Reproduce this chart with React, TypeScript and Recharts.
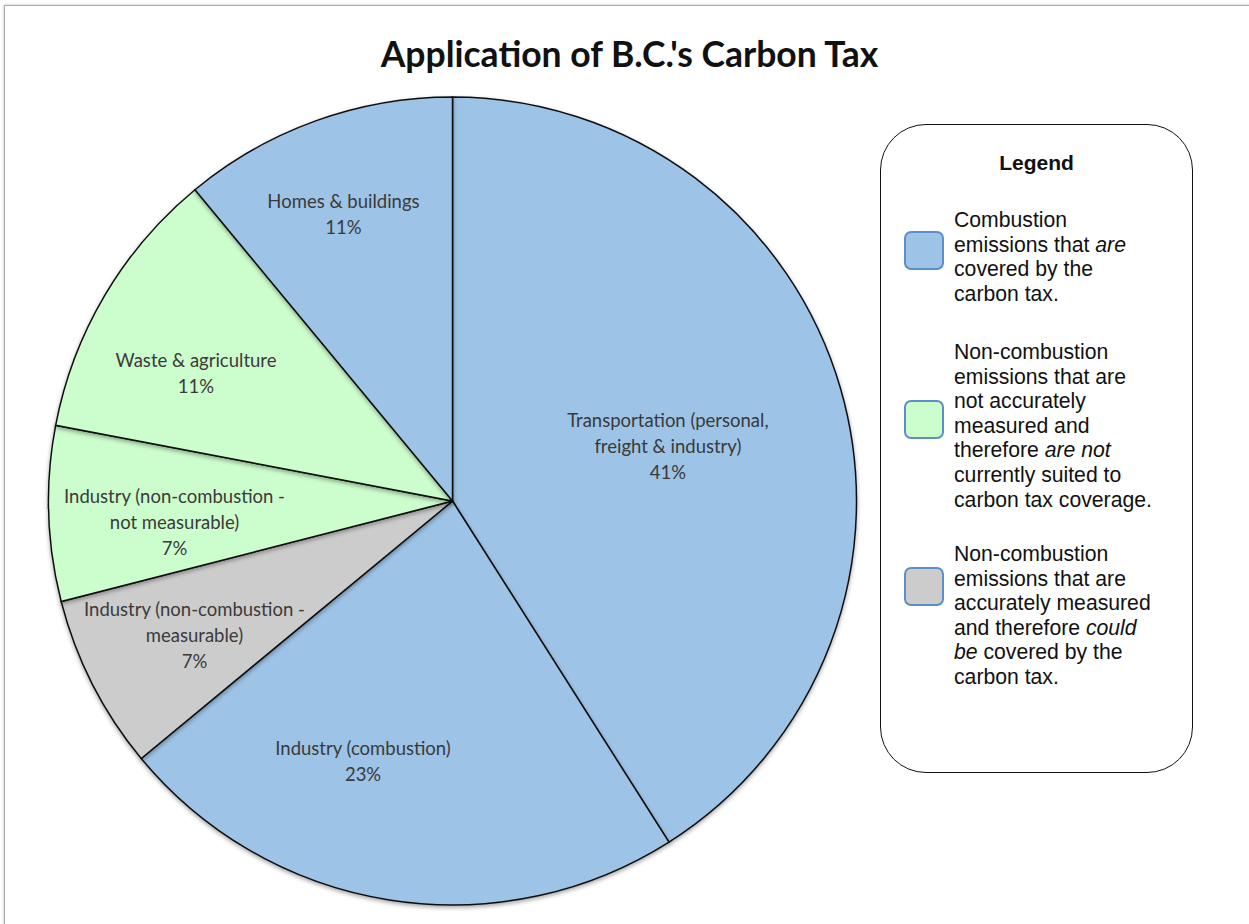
import { PieChart, Pie, Cell } from 'recharts';

// slices clockwise from 12 o'clock
const SLICES = [
  'Transportation (personal, freight & industry)',
  'Industry (combustion)',
  'Industry (non-combustion - measurable)',
  'Industry (non-combustion - not measurable)',
  'Waste & agriculture',
  'Homes & buildings',
];
const SHARES = [41, 23, 7, 7, 11, 11];
const GROUPS = ['covered', 'covered', 'measurable', 'unmeasured', 'unmeasured', 'covered'];

// how each label wraps
const LABEL_LINES = [
  ['Transportation (personal,', 'freight & industry)'],
  ['Industry (combustion)'],
  ['Industry (non-combustion -', 'measurable)'],
  ['Industry (non-combustion -', 'not measurable)'],
  ['Waste & agriculture'],
  ['Homes & buildings'],
];

const GROUP_COLORS: Record<string, string> = {
  covered: '#9dc3e6',
  unmeasured: '#ccfdcc',
  measurable: '#cccccc',
};

// label placement: fraction of radius + clockwise nudge in degrees (Excel "best fit")
const LABEL_PLACE = [
  { r: 0.55, shift: 2 },
  { r: 0.68, shift: 10 },
  { r: 0.72, shift: -0.5 },
  { r: 0.69, shift: -2.5 },
  { r: 0.71, shift: -4 },
  { r: 0.76, shift: -1 },
];

const LEGEND = [
  { group: 'covered', lines: [['Combustion'], ['emissions that ', '*are'], ['covered by the'], ['carbon tax.']] },
  {
    group: 'unmeasured',
    lines: [['Non-combustion'], ['emissions that are'], ['not accurately'], ['measured and'], ['therefore ', '*are not'], ['currently suited to'], ['carbon tax coverage.']],
  },
  {
    group: 'measurable',
    lines: [['Non-combustion'], ['emissions that are'], ['accurately measured'], ['and therefore ', '*could'], ['*be', ' covered by the'], ['carbon tax.']],
  },
];

const data = SLICES.map((name, i) => ({ name, value: SHARES[i], group: GROUPS[i] }));

const RAD = Math.PI / 180;

const renderLabel = (props: any) => {
  const { cx, cy, midAngle, outerRadius, index, value } = props;
  const place = LABEL_PLACE[index];
  const ang = (midAngle - place.shift) * RAD;
  const r = outerRadius * place.r;
  const x = cx + r * Math.cos(-ang);
  const y = cy + r * Math.sin(-ang);
  const lines = [...LABEL_LINES[index], `${value}%`];
  const lh = 26;
  const top = y - ((lines.length - 1) * lh) / 2;
  return (
    <text x={x} y={top} textAnchor="middle" dominantBaseline="central" fill="#3a3a3a" fontSize={18.5} fontFamily="Lato, 'Open Sans', sans-serif">
      {lines.map((l, i) => (
        <tspan key={i} x={x} y={top + i * lh}>{l}</tspan>
      ))}
    </text>
  );
};

export default function App() {
  return (
    <div style={{ position: 'relative', width: 1249, height: 924, overflow: 'hidden', background: '#fff' }}>
      <style>{`body{margin:0}`}</style>
      {/* outer chart frame */}
      <div
        style={{
          position: 'absolute', left: 4, top: 5, width: 1300, height: 1000,
          border: '1.5px solid #a9a9a9', boxShadow: '0 0 3px rgba(0,0,0,0.25)',
        }}
      />
      <div
        style={{
          position: 'absolute', left: 0, top: 32, width: 1259, textAlign: 'center',
          fontFamily: 'Lato, sans-serif', fontWeight: 700, fontSize: 35.5, color: '#111',
        }}
      >
        Application of B.C.'s Carbon Tax
      </div>
      <div style={{ position: 'absolute', left: 0, top: 0 }}>
        <PieChart width={1249} height={924} margin={{ top: 0, right: 0, bottom: 0, left: 0 }}>
          <defs>
            <filter id="pieShadow" x="-10%" y="-10%" width="120%" height="120%">
              <feDropShadow dx="0" dy="2" stdDeviation="2" floodColor="#000" floodOpacity="0.35" />
            </filter>
          </defs>
          <Pie
            data={data}
            dataKey="value"
            nameKey="name"
            cx={452.5}
            cy={501}
            outerRadius={404}
            startAngle={90}
            endAngle={-270}
            stroke="#111"
            strokeWidth={1.5}
            labelLine={false}
            label={renderLabel}
            isAnimationActive={false}
            style={{ filter: 'url(#pieShadow)' }}
          >
            {data.map((d, i) => (
              <Cell key={`cell-${i}`} fill={GROUP_COLORS[d.group]} />
            ))}
          </Pie>
        </PieChart>
      </div>
      {/* legend box */}
      <div
        style={{
          position: 'absolute', left: 880, top: 124, width: 313, height: 649, boxSizing: 'border-box',
          border: '1.5px solid #111', borderRadius: 46, background: '#fff',
          fontFamily: "'Liberation Sans', Arial, sans-serif", color: '#111',
        }}
      >
        <div style={{ position: 'absolute', top: 26, left: 0, width: '100%', textAlign: 'center', fontWeight: 700, fontSize: 21 }}>
          Legend
        </div>
        {LEGEND.map((item, k) => (
          <div key={k} style={{ position: 'absolute', left: 0, top: [83, 215, 417][k], width: '100%' }}>
            <div
              style={{
                position: 'absolute', left: 23, top: [23, 60, 25][k], width: 40, height: 39, boxSizing: 'border-box',
                background: GROUP_COLORS[item.group], border: '2px solid #5a8fcc', borderRadius: 7,
              }}
            />
            <div style={{ position: 'absolute', left: 73, top: 0, fontSize: 21.2, lineHeight: '24.6px', whiteSpace: 'nowrap' }}>
              {item.lines.map((parts, j) => (
                <div key={j}>
                  {parts.map((p, q) =>
                    p.startsWith('*') ? <i key={q}>{p.slice(1)}</i> : <span key={q}>{p}</span>
                  )}
                </div>
              ))}
            </div>
          </div>
        ))}
      </div>
    </div>
  );
}
